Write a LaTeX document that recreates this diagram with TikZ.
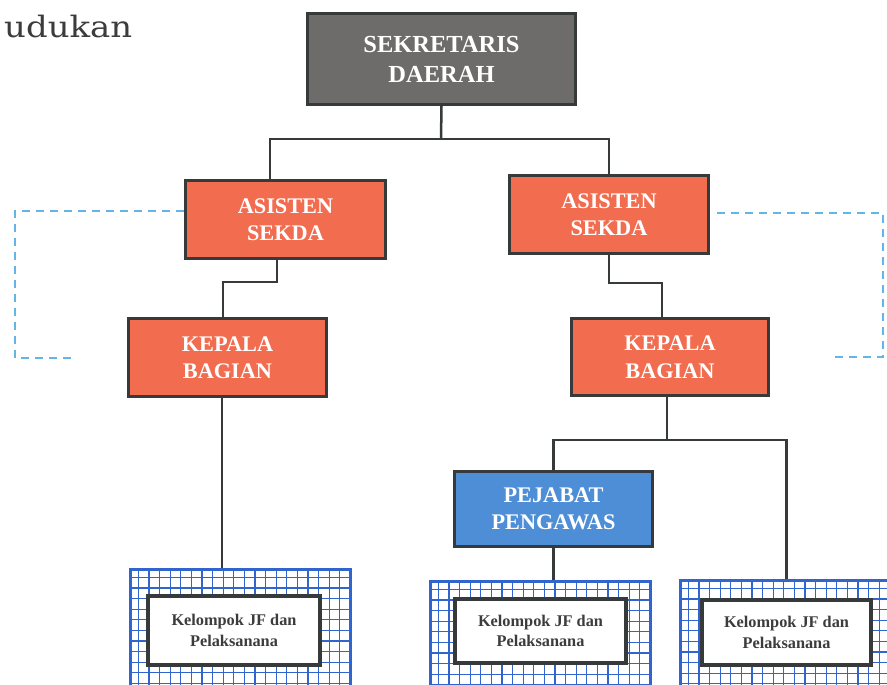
\documentclass[tikz,border=0pt]{standalone}
\usepackage{fontspec}
\setmainfont{Liberation Serif}
\newfontfamily\titlefont[FakeStretch=1.15]{DejaVu Serif}
\usetikzlibrary{calc}

\definecolor{boxline}{RGB}{55,58,58}
\definecolor{coral}{RGB}{242,108,80}
\definecolor{slate}{RGB}{110,108,106}
\definecolor{pejblue}{RGB}{78,142,214}
\definecolor{gridblue}{RGB}{50,100,205}
\definecolor{dashblue}{RGB}{100,180,230}
\definecolor{labelgray}{RGB}{60,60,60}

\begin{document}
\begin{tikzpicture}[x=1pt,y=-1pt,
  orgbox/.style={draw=boxline, line width=3pt, text=white, align=center,
    inner sep=0pt, font=\bfseries\fontsize{22.3}{27.5}\selectfont},
  gridbox/.style={draw=gridblue, line width=2.8pt, fill=white, inner sep=0pt,
    anchor=north west, minimum width=#1, minimum height=140pt,
    path picture={
      \foreach \k in {0,...,24}{
        \draw[gridblue, line width=1.1pt]
          ([xshift=\k*10.6pt+8pt]path picture bounding box.north west) -- ++(0pt,-200pt);
        \draw[gridblue, line width=1.1pt]
          ([yshift=-\k*10.6pt-8pt]path picture bounding box.north west) -- ++(300pt,0pt);
      }}},
  jfbox/.style={draw=boxline, line width=4.2pt, fill=white, text=labelgray,
    align=center, inner sep=0pt, font=\bfseries\fontsize{16.3}{20.5}\selectfont},
  conn/.style={draw=boxline, line width=2.5pt},
  sidelink/.style={draw=dashblue, line width=1.5pt, dash pattern=on 8pt off 6pt}]

\clip (0,0) rectangle (887,685);
\fill[white] (0,0) rectangle (887,685);

% heading fragment
\node[anchor=base west, inner sep=0pt, text=labelgray,
  font=\titlefont\fontsize{29.5}{32}\selectfont] (heading) at (4,38) {udukan};

% top level
\node[orgbox, fill=slate, minimum width=268pt, minimum height=91pt,
  font=\bfseries\fontsize{24.5}{30}\selectfont] (sekda) at (441.5,59) {SEKRETARIS\\DAERAH};

% assistants
\node[orgbox, fill=coral, minimum width=200pt, minimum height=78pt] (asL) at (285.5,219.5) {ASISTEN\\SEKDA};
\node[orgbox, fill=coral, minimum width=199pt, minimum height=78pt] (asR) at (609,214.5) {ASISTEN\\SEKDA};

% department heads
\node[orgbox, fill=coral, minimum width=198pt, minimum height=78pt] (kbL) at (227.5,357.5) {KEPALA\\BAGIAN};
\node[orgbox, fill=coral, minimum width=197pt, minimum height=77pt] (kbR) at (670,357) {KEPALA\\BAGIAN};

% supervisor
\node[orgbox, fill=pejblue, minimum width=198pt, minimum height=75pt] (pej) at (553.5,509) {PEJABAT\\PENGAWAS};

% functional groups
\node[gridbox=220pt] (gridL) at (129,568) {};
\node[gridbox=220pt] (gridM) at (429,580) {};
\node[gridbox=212pt] (gridR) at (679,579) {};

\node[jfbox, minimum width=172pt, minimum height=69pt] (jfL) at (234,630.5) {Kelompok JF dan\\Pelaksanana};
\node[jfbox, minimum width=171pt, minimum height=64pt] (jfM) at (540.5,631) {Kelompok JF dan\\Pelaksanana};
\node[jfbox, minimum width=169pt, minimum height=65pt] (jfR) at (786.5,632.5) {Kelompok JF dan\\Pelaksanana};

% connectors
\coordinate (bus) at (441,139);
\draw[conn] (sekda.south) -- (bus);
\draw[conn] ([xshift=-15.5pt]asL.north) |- (bus) -| (asR.north);

\coordinate (jL) at (250,282);
\draw[conn] ([xshift=-8.5pt]asL.south) |- (jL) -| ([xshift=-4.5pt]kbL.north);

\coordinate (jR) at (640,283);
\draw[conn] (asR.south) |- (jR) -| ([xshift=-8pt]kbR.north);

\draw[conn] ([xshift=-5.5pt]kbL.south) -- ([xshift=-5.5pt]kbL.south |- gridL.north);

\coordinate (bus2) at (667,440);
\draw[conn] ([xshift=-3pt]kbR.south) -- (bus2);
\draw[conn] (pej.north) |- (bus2) -| (gridR.north);
\draw[conn] (pej.south) -- (pej.south |- gridM.north);

% dashed side links
\coordinate (dl1) at (15,211);
\coordinate (dl2) at (15,358);
\coordinate (dl3) at (75,358);
\draw[sidelink] ([yshift=8.5pt]asL.west) -- (dl1) -- (dl2) -- (dl3);

\coordinate (dr1) at (883,213);
\coordinate (dr2) at (883,357);
\coordinate (dr3) at (830,357);
\draw[sidelink] ([xshift=7pt,yshift=1.5pt]asR.east) -- (dr1) -- (dr2) -- (dr3);

\end{tikzpicture}
\end{document}
